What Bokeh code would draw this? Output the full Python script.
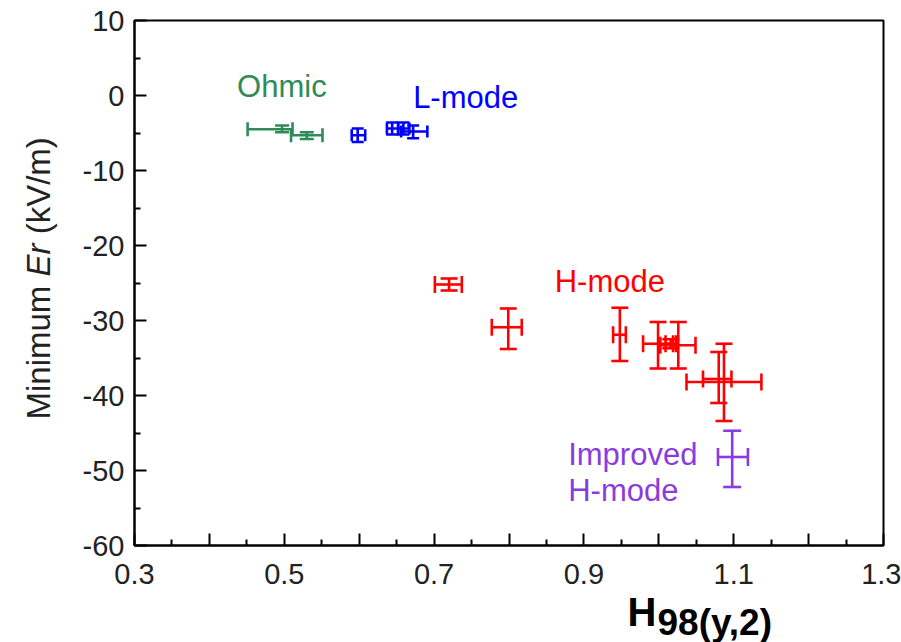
from bokeh.plotting import figure
from bokeh.layouts import row, column
from bokeh.models import (ColumnDataSource, Whisker, TeeHead, FixedTicker,
                          CustomJSTickFormatter, Label, Range1d)
from bokeh.embed import file_html
from bokeh.resources import INLINE

# ---------------- data ----------------
# x = H98(y,2), y = Minimum Er (kV/m); asymmetric error bounds
ohmic_x    = [0.497, 0.530]
ohmic_xlo  = [0.451, 0.509]
ohmic_xhi  = [0.511, 0.551]
ohmic_y    = [-4.5, -5.3]
ohmic_ylo  = [-4.9, -5.8]
ohmic_yhi  = [-4.0, -4.9]

lmode_x    = [0.598, 0.644, 0.659, 0.672]
lmode_xlo  = [0.590, 0.637, 0.652, 0.656]
lmode_xhi  = [0.608, 0.652, 0.667, 0.691]
lmode_y    = [-5.3, -4.4, -4.4, -4.8]
lmode_ylo  = [-6.2, -5.2, -5.2, -5.7]
lmode_yhi  = [-4.4, -3.6, -3.6, -4.0]

hmode_x    = [0.720, 0.799, 0.948, 0.999, 1.016, 1.026, 1.080, 1.087]
hmode_xlo  = [0.701, 0.777, 0.939, 0.979, 1.009, 1.002, 1.059, 1.037]
hmode_xhi  = [0.737, 0.817, 0.956, 1.019, 1.023, 1.049, 1.097, 1.137]
hmode_y    = [-25.2, -30.9, -31.9, -33.1, -33.1, -33.3, -37.8, -38.2]
hmode_ylo  = [-26.0, -33.8, -35.4, -36.4, -33.7, -36.4, -41.0, -43.4]
hmode_yhi  = [-24.4, -28.4, -28.3, -30.2, -32.5, -30.2, -34.2, -33.1]

ihmode_x   = [1.098]
ihmode_xlo = [1.079]
ihmode_xhi = [1.119]
ihmode_y   = [-48.2]
ihmode_ylo = [-52.2]
ihmode_yhi = [-44.7]

x_ticks = [0.3, 0.4, 0.5, 0.6, 0.7, 0.8, 0.9, 1.0, 1.1, 1.2, 1.3]
x_minor = [0.35, 0.45, 0.55, 0.65, 0.75, 0.85, 0.95, 1.05, 1.15, 1.25]
y_ticks = [-60, -50, -40, -30, -20, -10, 0, 10]
y_minor = [-55, -45, -35, -25, -15, -5, 5]

GREEN = "#2e8b57"
BLUE = "#0000ff"
RED = "#ff0000"
PURPLE = "#8a3be0"
FONT = "Liberation Sans"
TXT = "#222222"

W, H = 901, 642
LEFT_W = 70     # width of the strip holding the y-axis title
MAIN_H = 596    # height of the main plot canvas
BOTTOM_H = H - MAIN_H   # strip holding the x-axis title

p = figure(width=W - LEFT_W, height=MAIN_H, output_backend="svg",
           toolbar_location=None,
           x_range=Range1d(0.3, 1.3), y_range=Range1d(-60, 10),
           min_border_left=134 - LEFT_W, min_border_right=18, min_border_top=20,
           min_border_bottom=MAIN_H - 545)
p.grid.visible = False
p.outline_line_color = "black"
p.outline_line_width = 2
p.background_fill_color = "white"
p.border_fill_color = "white"

for ax in (p.xaxis[0], p.yaxis[0]):
    ax.axis_line_width = 2
    ax.major_tick_line_width = 2
    ax.minor_tick_line_width = 2
    ax.major_tick_in = 12
    ax.major_tick_out = 0
    ax.minor_tick_in = 6
    ax.minor_tick_out = 0
    ax.major_label_text_font = FONT
    ax.major_label_text_font_size = "29px"
    ax.major_label_text_color = TXT

p.xaxis.ticker = FixedTicker(ticks=x_ticks, minor_ticks=x_minor)
p.yaxis.ticker = FixedTicker(ticks=y_ticks, minor_ticks=y_minor)
p.xaxis.formatter = CustomJSTickFormatter(
    code="return (Math.round(tick*10) % 2 == 1) ? tick.toFixed(1) : '';")
p.yaxis.formatter = CustomJSTickFormatter(code="return tick.toFixed(0);")
p.xaxis.major_label_standoff = 18
p.yaxis.major_label_standoff = 10


def errorbars(xs, xlo, xhi, ys, ylo, yhi, color, head):
    src = ColumnDataSource(dict(x=xs, xlo=xlo, xhi=xhi, y=ys, ylo=ylo, yhi=yhi))
    lw = 2.6
    wx = Whisker(source=src, base="y", lower="xlo", upper="xhi", dimension="width",
                 line_color=color, line_width=lw,
                 lower_head=TeeHead(size=head, line_color=color, line_width=lw),
                 upper_head=TeeHead(size=head, line_color=color, line_width=lw))
    wy = Whisker(source=src, base="x", lower="ylo", upper="yhi", dimension="height",
                 line_color=color, line_width=lw,
                 lower_head=TeeHead(size=head, line_color=color, line_width=lw),
                 upper_head=TeeHead(size=head, line_color=color, line_width=lw))
    p.add_layout(wx)
    p.add_layout(wy)


errorbars(ohmic_x, ohmic_xlo, ohmic_xhi, ohmic_y, ohmic_ylo, ohmic_yhi, GREEN, 14)
errorbars(lmode_x, lmode_xlo, lmode_xhi, lmode_y, lmode_ylo, lmode_yhi, BLUE, 12)
errorbars(hmode_x, hmode_xlo, hmode_xhi, hmode_y, hmode_ylo, hmode_yhi, RED, 17)
errorbars(ihmode_x, ihmode_xlo, ihmode_xhi, ihmode_y, ihmode_ylo, ihmode_yhi, PURPLE, 18)


def lab(x, y, text, color, size="31px"):
    p.add_layout(Label(x=x, y=y, text=text, text_color=color, text_font=FONT,
                       text_font_size=size, text_baseline="middle"))


lab(0.437, 1.2, "Ohmic", GREEN)
lab(0.672, -0.2, "L-mode", BLUE)
lab(0.861, -24.8, "H-mode", RED)
lab(0.879, -47.9, "Improved", PURPLE)
lab(0.879, -52.6, "H-mode", PURPLE)

# ---------- left strip: y-axis title, "Er" in italic ----------
left = figure(width=LEFT_W, height=H, output_backend="svg", toolbar_location=None,
              x_range=Range1d(0, LEFT_W), y_range=Range1d(0, H),
              x_axis_location=None, y_axis_location=None, min_border=0)
left.grid.visible = False
left.outline_line_color = None
left.border_fill_color = "white"

YS = 33
yx = 38
y0 = H - 419
pieces = [("Minimum", "normal", 0.0), ("Er", "italic", 4.333), ("(kV/m)", "normal", 5.611)]
for txt, style, off in pieces:
    left.add_layout(Label(x=yx, y=y0 + off * YS, text=txt, angle=90, angle_units="deg",
                          text_font=FONT, text_font_size=f"{YS}px", text_font_style=style,
                          text_baseline="middle", text_color=TXT))

# ---------- bottom strip: x-axis title H_98(y,2) ----------
# (the strip's frame is aligned with the main frame; screen px from its bottom-left)
bottom = figure(width=W - LEFT_W, height=BOTTOM_H, output_backend="svg",
                toolbar_location=None,
                x_range=Range1d(0, 1), y_range=Range1d(0, 1),
                x_axis_location=None, y_axis_location=None, min_border=0)
bottom.grid.visible = False
bottom.outline_line_color = None
bottom.border_fill_color = "white"
bottom.add_layout(Label(x=493, y=31, x_units="screen", y_units="screen", text="H",
                        text_font=FONT, text_font_size="40px", text_font_style="bold",
                        text_baseline="middle", text_color="black"))
bottom.add_layout(Label(x=523, y=20, x_units="screen", y_units="screen", text="98(y,2)",
                        text_font=FONT, text_font_size="37px", text_font_style="bold",
                        text_baseline="middle", text_color="black"))

layout = row(left, column(p, bottom, spacing=0), spacing=0)
open("out.html", "w").write(file_html(layout, INLINE))
